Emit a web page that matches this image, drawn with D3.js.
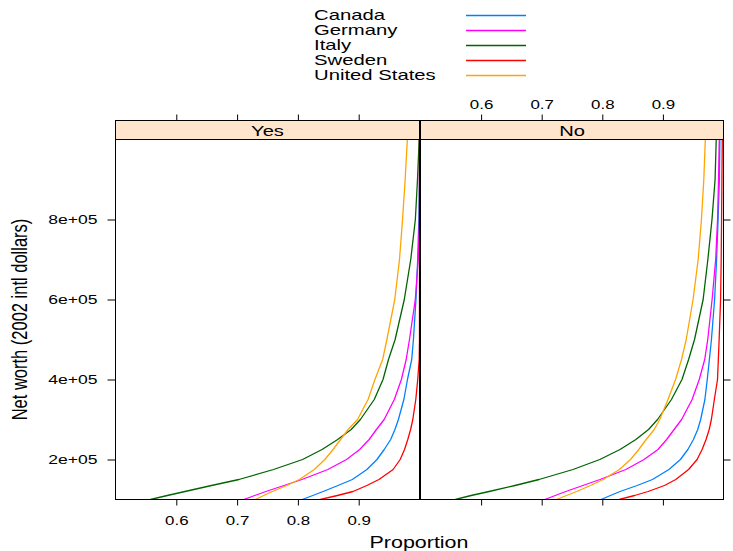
<!DOCTYPE html>
<html>
<head>
<meta charset="utf-8">
<script src="https://cdn.jsdelivr.net/npm/d3@7"></script>
<style>
  body { margin: 0; background: #fff; }
  svg { display: block; font-family: "Liberation Sans", Arial, Helvetica, sans-serif; }
</style>
</head>
<body>
<svg id="chart" width="733" height="551"></svg>
<script>
// Countries and their line colours (lattice superpose palette)
const countries = ["Canada", "Germany", "Italy", "Sweden", "United States"];
const lineColors = ["#0080ff", "#ff00ff", "#006400", "#ff0000", "#ffa500"];
const panelNames = ["Yes", "No"];

// Net worth levels at which the cumulative proportion is given
const netWorthLevels = [100000, 110000, 120000, 135000, 150000, 175000, 200000, 225000, 250000, 275000,
                        300000, 350000, 400000, 450000, 500000, 600000, 700000, 800000, 900000, 1000000];

// Cumulative proportion of households at or below each level, panel "Yes"
const yesCanada  = [0.807, 0.8245, 0.8414, 0.866, 0.8895, 0.9135, 0.930, 0.942, 0.9526, 0.9596, 0.9653, 0.9743, 0.9802, 0.9872, 0.990, 0.9942, 0.997, 0.9989, 1, 1];
const yesGermany = [0.711, 0.729, 0.7474, 0.777, 0.8066, 0.8492, 0.880, 0.9016, 0.9172, 0.9292, 0.9419, 0.9586, 0.9702, 0.9781, 0.9835, 0.9931, 0.9979, 1, 1, 1];
const yesItaly   = [0.5576, 0.5852, 0.6142, 0.6579, 0.703, 0.7599, 0.8077, 0.8397, 0.8654, 0.8877, 0.9028, 0.9256, 0.940, 0.949, 0.9599, 0.975, 0.9856, 0.9932, 0.9967, 0.9995];
const yesSweden  = [0.837, 0.865, 0.8906, 0.9134, 0.9333, 0.9566, 0.9682, 0.9754, 0.9807, 0.9854, 0.989, 0.9939, 0.9971, 0.9995, 1, 1, 1, 1, 1, 1];
const yesUS      = [0.730, 0.7437, 0.7578, 0.7816, 0.8024, 0.8269, 0.8443, 0.8578, 0.8702, 0.8826, 0.8981, 0.9154, 0.9267, 0.9394, 0.9464, 0.9593, 0.9671, 0.9721, 0.9764, 0.980];

// Cumulative proportion, panel "No"
const noCanada  = [0.798, 0.8133, 0.8293, 0.8575, 0.8828, 0.9099, 0.9289, 0.9412, 0.9504, 0.9575, 0.9623, 0.9693, 0.9732, 0.9767, 0.9801, 0.9853, 0.9886, 0.9911, 0.9932, 0.994];
const noGermany = [0.705, 0.7223, 0.7397, 0.7679, 0.7962, 0.8389, 0.8688, 0.8919, 0.9062, 0.9185, 0.9309, 0.9482, 0.960, 0.969, 0.974, 0.9812, 0.9871, 0.9902, 0.9918, 0.993];
const noItaly   = [0.5575, 0.5835, 0.6132, 0.6559, 0.6956, 0.7516, 0.7959, 0.8292, 0.8554, 0.8763, 0.8912, 0.9141, 0.9315, 0.9424, 0.9522, 0.9664, 0.9742, 0.981, 0.9861, 0.988];
const noSweden  = [0.828, 0.8533, 0.8755, 0.9026, 0.9212, 0.9424, 0.9564, 0.9647, 0.9712, 0.9764, 0.980, 0.9849, 0.9901, 0.9915, 0.9928, 0.9952, 0.9962, 0.9968, 0.9974, 0.998];
const noUS      = [0.724, 0.741, 0.7577, 0.7805, 0.8015, 0.8282, 0.8466, 0.8602, 0.8724, 0.8857, 0.8948, 0.9084, 0.9209, 0.9307, 0.9385, 0.9498, 0.9582, 0.9636, 0.9675, 0.970];

// Axis ticks
const xTicks = [0.6, 0.7, 0.8, 0.9];
const xTickLabels = ["0.6", "0.7", "0.8", "0.9"];
const yTicks = [200000, 400000, 600000, 800000];
const yTickLabels = ["2e+05", "4e+05", "6e+05", "8e+05"];

const panelSeries = {
  Yes: [yesCanada, yesGermany, yesItaly, yesSweden, yesUS],
  No:  [noCanada, noGermany, noItaly, noSweden, noUS]
};

// ---- layout ----
const SX = 1.3;             // horizontal widening of all glyphs
const plotTop = 139.5, plotBottom = 499.5;
const stripTop = 120.5;
const panelBox = {
  Yes: [115.5, 419.5],
  No:  [420.5, 723.5]
};

const svg = d3.select("#chart");

const y = d3.scaleLinear().domain([100000, 1000000]).range([plotBottom, plotTop]);
const xScales = {};
panelNames.forEach(p => {
  xScales[p] = d3.scaleLinear().domain([0.5, 1.0]).range(panelBox[p]);
});

// helper: text widened horizontally around its anchor point
function wideText(parent, x, y0, str, size, anchor, rotate, sx) {
  const k = sx || SX;
  return parent.append("text")
    .attr("transform", `translate(${x},${y0}) scale(${k},1)` + (rotate ? ` rotate(${rotate})` : ""))
    .attr("font-size", size)
    .attr("text-anchor", anchor || "start")
    .attr("fill", "#000")
    .text(str);
}

function cleanAxis(g, size) {
  g.attr("font-size", null).attr("font-family", null);
  g.select(".domain").remove();
  g.selectAll(".tick line").attr("stroke", "#000");
  g.selectAll(".tick text").attr("fill", "#000").attr("font-size", size);
}

// ---- clip paths ----
const defs = svg.append("defs");
panelNames.forEach(p => {
  const [x0, x1] = panelBox[p];
  defs.append("clipPath").attr("id", "clip-" + p)
    .append("rect").attr("x", x0).attr("y", plotTop).attr("width", x1 - x0).attr("height", plotBottom - plotTop);
});

// ---- panels ----
panelNames.forEach((p, pi) => {
  const x = xScales[p];
  const [x0, x1] = panelBox[p];

  // strip
  svg.append("rect")
    .attr("x", x0).attr("y", stripTop).attr("width", x1 - x0).attr("height", plotTop - stripTop)
    .attr("fill", "#ffe5cc").attr("stroke", "#000").attr("stroke-width", 1);
  wideText(svg, (x0 + x1) / 2, (stripTop + plotTop) / 2 + 5.5, p, 15.5, "middle");

  // cumulative curves, one per country
  const line = d3.line()
    .x(d => x(d.p))
    .y(d => y(d.v));
  const g = svg.append("g").attr("clip-path", `url(#clip-${p})`);
  panelSeries[p].forEach((props, ci) => {
    const pts = netWorthLevels.map((v, i) => ({ v, p: props[i] }));
    g.append("path")
      .datum(pts)
      .attr("fill", "none")
      .attr("stroke", lineColors[ci])
      .attr("stroke-width", 1.3)
      .attr("stroke-linejoin", "round")
      .attr("d", line);
  });

  // panel border
  svg.append("rect")
    .attr("x", x0).attr("y", plotTop).attr("width", x1 - x0).attr("height", plotBottom - plotTop)
    .attr("fill", "none").attr("stroke", "#000").attr("stroke-width", 1);

  // bottom axis (labels on first panel only)
  const bottom = d3.axisBottom(x).tickValues(xTicks).tickSize(6).tickPadding(10)
    .tickFormat((d, i) => pi === 0 ? xTickLabels[i] : "");
  const gb = svg.append("g").attr("transform", `translate(0,${plotBottom})`).call(bottom);
  cleanAxis(gb, 13);
  gb.selectAll(".tick text").attr("transform", `scale(${SX},1)`);

  // top axis (labels on second panel only), above the strip
  const top = d3.axisTop(x).tickValues(xTicks).tickSize(6).tickPadding(6)
    .tickFormat((d, i) => pi === 1 ? xTickLabels[i] : "");
  const gt = svg.append("g").attr("transform", `translate(0,${stripTop})`).call(top);
  cleanAxis(gt, 13);
  gt.selectAll(".tick text").attr("transform", `scale(${SX},1)`);
});

// left axis with labels
const left = d3.axisLeft(y).tickValues(yTicks).tickSize(8).tickPadding(10)
  .tickFormat((d, i) => yTickLabels[i]);
const gl = svg.append("g").attr("transform", `translate(${panelBox.Yes[0]},0)`).call(left);
cleanAxis(gl, 13.5);
gl.selectAll(".tick text").attr("x", -18 / SX).attr("transform", `scale(${SX},1)`);

// right axis, ticks only
const right = d3.axisRight(y).tickValues(yTicks).tickSize(7).tickFormat("");
const gr = svg.append("g").attr("transform", `translate(${panelBox.No[1]},0)`).call(right);
cleanAxis(gr, 13);

// axis titles
wideText(svg, 419, 548, "Proportion", 16.5, "middle");
wideText(svg, 27, (plotTop + plotBottom) / 2, "Net worth (2002 intl dollars)", 16.5, "middle", -90);

// legend
const legend = svg.append("g");
countries.forEach((c, i) => {
  const cy = 15 + i * 15;
  wideText(legend, 314, cy + 5, c, 14, "start", null, 1.45);
  legend.append("line")
    .attr("x1", 466).attr("x2", 526).attr("y1", cy + 0.5).attr("y2", cy + 0.5)
    .attr("stroke", lineColors[i]).attr("stroke-width", 1.3);
});
</script>
</body>
</html>
